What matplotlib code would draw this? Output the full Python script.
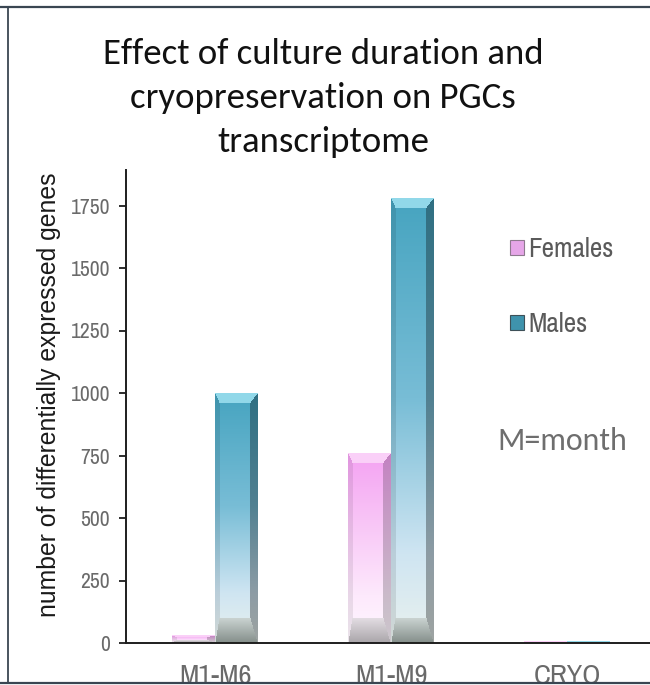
import numpy as np
import matplotlib
matplotlib.use("Agg")
import matplotlib.pyplot as plt
from matplotlib.patches import Rectangle
from matplotlib.lines import Line2D
from matplotlib.colors import to_rgb

categories = ["M1-M6", "M1-M9", "CRYO"]
females = [30, 760, 5]
males = [1000, 1780, 5]
series_names = ["Females", "Males"]
yticks = [0, 250, 500, 750, 1000, 1250, 1500, 1750]

NARROW = ["Archivo Narrow", "PT Sans Narrow", "Roboto Condensed", "Liberation Sans", "DejaVu Sans"]
CALIBRI = ["Carlito", "Lato", "DejaVu Sans"]

W, H = 650, 685
fig = plt.figure(figsize=(W / 100, H / 100), dpi=100)
fig.patch.set_facecolor("white")

ax = fig.add_axes([126 / W, 1 - 643 / H, (650 - 126) / W, (643 - 170) / H])
ax.set_xlim(-0.506, 2.47)
ax.set_ylim(0, 1892)

x = np.arange(len(categories))
bw = 0.244

fb = ax.bar(x - bw / 2, females, bw, color="none", edgecolor="none", zorder=2)
mb = ax.bar(x + bw / 2, males, bw, color="none", edgecolor="none", zorder=2)

def interp(stops, t):
    ts = [s[0] for s in stops]
    cs = np.array([to_rgb(s[1]) for s in stops])
    return np.stack([np.interp(t, ts, cs[:, k]) for k in range(3)], axis=-1)

def bevel_bar(ax, bar, face_stops, top_col, bot_stops, right_fac, left_fac):
    x0, w, h = bar.get_x(), bar.get_width(), bar.get_height()
    if h <= 0:
        return
    p0 = ax.transData.transform((x0, 0))
    p1 = ax.transData.transform((x0 + w, h))
    wpx = max(2, int(round(p1[0] - p0[0])))
    hpx = max(2, int(round(p1[1] - p0[1])))
    i = np.arange(hpx)[:, None] * np.ones((1, wpx))
    j = np.ones((hpx, 1)) * np.arange(wpx)[None, :]
    t = i / max(hpx - 1, 1)
    face = interp(face_stops, t)
    tb = max(1.0, min(9.0, 0.2 * hpx))
    bb = max(1.0, min(24.0, 0.3 * hpx))
    nt = i / tb
    nb = (hpx - 1 - i) / bb
    nl = j / 4.0
    nr = (wpx - 1 - j) / 7.0
    stack = np.stack([nt, nb, nl, nr, np.ones_like(nt)], axis=-1)
    which = np.argmin(stack, axis=-1)
    img = face.copy()
    img[which == 0] = np.array(to_rgb(top_col))
    bt = np.clip(nb, 0, 1)
    bot = interp(bot_stops, bt)
    img[which == 1] = bot[which == 1]
    img[which == 2] = face[which == 2] * left_fac
    img[which == 3] = face[which == 3] * right_fac
    img = np.clip(img, 0, 1)
    ax.imshow(img, extent=(x0, x0 + w, 0, h), aspect="auto", zorder=2,
              interpolation="bilinear")

for b in fb:
    bevel_bar(ax, b,
              [(0, "#f4a2f2"), (0.35, "#f8c4f6"), (0.75, "#fde9fc"), (1, "#fff8ff")],
              "#fbd0f8", [(0, "#aaa6aa"), (1, "#e2dce2")], 0.8, 0.92)
for b in mb:
    bevel_bar(ax, b,
              [(0, "#46a4c0"), (0.45, "#78bdd6"), (0.8, "#cfe5f2"), (1, "#e9f1ee")],
              "#92d8ea", [(0, "#858f8b"), (1, "#c9d2d0")], 0.68, 0.9)

for sp in ["top", "right"]:
    ax.spines[sp].set_visible(False)
for sp in ["left", "bottom"]:
    ax.spines[sp].set_color("#1e1e1e")
    ax.spines[sp].set_linewidth(1.4)
    ax.spines[sp].set_zorder(3)
ax.set_yticks(yticks)
ax.set_yticklabels([str(v) for v in yticks])
ax.tick_params(axis="y", length=5, width=1.3, color="#1e1e1e", labelcolor="#6a6a6a",
               labelsize=15.5, pad=6.5)
for lab in ax.get_yticklabels():
    lab.set_family(NARROW)
ax.set_xticks(x)
ax.set_xticklabels(categories)
ax.tick_params(axis="x", length=0, labelcolor="#6a6a6a", labelsize=20.5, pad=15)
for lab in ax.get_xticklabels():
    lab.set_family(NARROW)

ax.set_ylabel("number of differentially expressed genes", fontsize=17.8,
              family=["Liberation Sans", "DejaVu Sans"], color="#1a1a1a")
ax.yaxis.set_label_coords((61 - 126) / (650 - 126), (643 - 395) / (643 - 170))

# Legend
handles = [Rectangle((0, 0), 1, 1, facecolor="#e6a6e8", edgecolor="#8e7a8e", linewidth=0.8),
           Rectangle((0, 0), 1, 1, facecolor="#3f93ad", edgecolor="#3e5058", linewidth=0.8)]
leg = fig.legend(handles, series_names, loc="upper left",
                 bbox_to_anchor=(510 / W, 1 - 237 / H), frameon=False,
                 prop={"family": NARROW, "size": 19.5},
                 handlelength=0.5, handleheight=0.5, handletextpad=0.18,
                 labelspacing=1.85, borderpad=0, borderaxespad=0)
for t in leg.get_texts():
    t.set_color("#5a5a5a")

fig.text(562 / W, 1 - 441 / H, "M=month", ha="center", va="center", fontsize=23,
         family=CALIBRI, color="#6e6e6e")

title_lines = ["Effect of culture duration and", "cryopreservation on PGCs", "transcriptome"]
for k, line in enumerate(title_lines):
    fig.text(323 / W, 1 - (64 + 44 * k) / H, line, ha="center", va="baseline",
             fontsize=26.5, family=CALIBRI, color="#111111")

# outer frame, bottom edge clips category labels
fig.add_artist(Rectangle((0, 0), 1, 1 - 683 / H, transform=fig.transFigure,
                         facecolor="white", edgecolor="none", zorder=20))
for yy in (683, 7):
    fig.add_artist(Line2D([0, 1], [1 - yy / H] * 2, transform=fig.transFigure,
                          color="#3a4652", linewidth=1.6, zorder=21))
fig.add_artist(Line2D([8 / W] * 2, [1 - 7 / H, 1 - 683 / H], transform=fig.transFigure,
                      color="#3a4652", linewidth=1.3, zorder=21))

fig.savefig("out.png", dpi=100)
